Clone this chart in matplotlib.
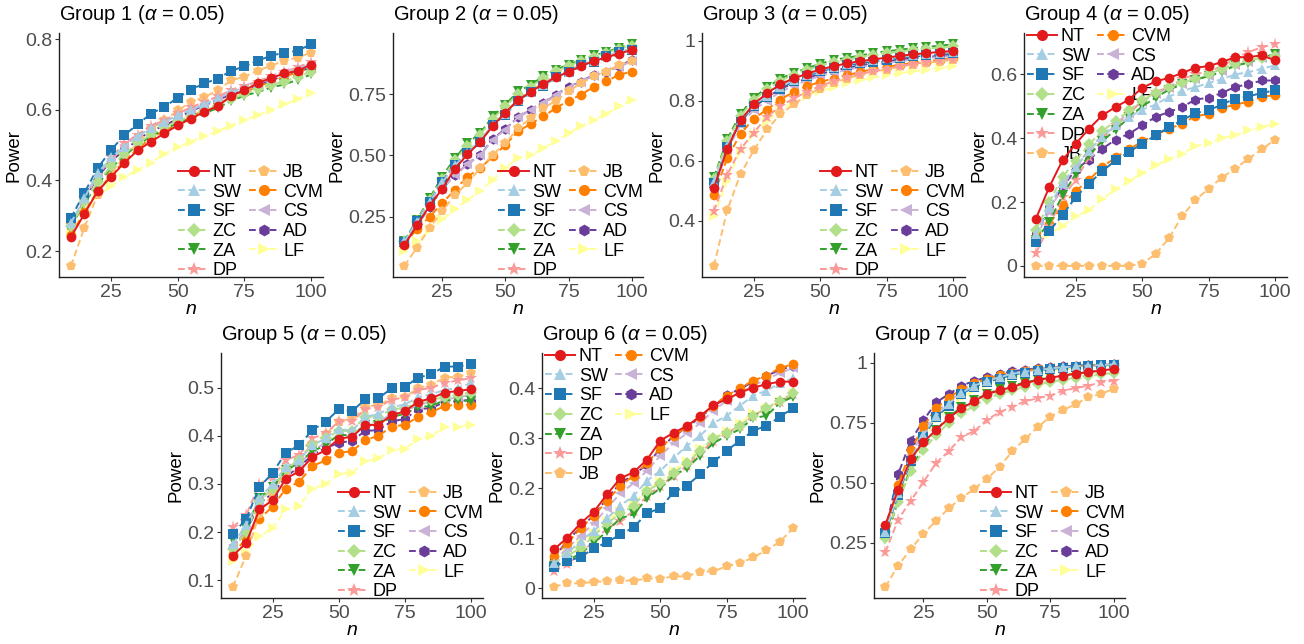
import matplotlib.pyplot as plt
from matplotlib.lines import Line2D

plt.rcParams["font.family"] = ["Liberation Sans", "DejaVu Sans"]
plt.rcParams["mathtext.fontset"] = "custom"
plt.rcParams["mathtext.rm"] = "Liberation Sans"
plt.rcParams["mathtext.it"] = "Liberation Sans:italic"

n = list(range(10, 105, 5))
methods = ["NT", "SW", "SF", "ZC", "ZA", "DP", "JB", "CVM", "CS", "AD", "LF"]
colors = ["#E31A1C", "#A6CEE3", "#1F78B4", "#B2DF8A", "#33A02C", "#FB9A99",
          "#FDBF6F", "#FF7F00", "#CAB2D6", "#6A3D9A", "#FFFF99"]
markers = ["o", "^", "s", "D", "v", "*", "p", "o", "<", "h", ">"]

g1 = {
    "NT": [0.24, 0.305, 0.37, 0.41, 0.45, 0.485, 0.51, 0.533, 0.556, 0.575, 0.594, 0.61, 0.639, 0.655, 0.675, 0.69, 0.703, 0.71, 0.728],
    "SW": [0.28, 0.35, 0.42, 0.465, 0.495, 0.525, 0.548, 0.565, 0.585, 0.6, 0.615, 0.632, 0.65, 0.663, 0.675, 0.69, 0.705, 0.715, 0.73],
    "SF": [0.294, 0.365, 0.435, 0.486, 0.528, 0.559, 0.589, 0.608, 0.634, 0.657, 0.675, 0.688, 0.71, 0.723, 0.739, 0.753, 0.762, 0.767, 0.786],
    "ZC": [0.27, 0.34, 0.395, 0.44, 0.475, 0.505, 0.53, 0.55, 0.568, 0.582, 0.597, 0.612, 0.63, 0.645, 0.658, 0.67, 0.68, 0.693, 0.708],
    "ZA": [0.27, 0.335, 0.39, 0.435, 0.47, 0.5, 0.525, 0.545, 0.562, 0.576, 0.59, 0.605, 0.625, 0.64, 0.65, 0.663, 0.672, 0.685, 0.70],
    "DP": [0.275, 0.35, 0.42, 0.465, 0.505, 0.53, 0.555, 0.57, 0.59, 0.607, 0.622, 0.638, 0.655, 0.668, 0.68, 0.695, 0.708, 0.72, 0.735],
    "JB": [0.158, 0.266, 0.36, 0.42, 0.467, 0.505, 0.547, 0.57, 0.598, 0.622, 0.636, 0.655, 0.683, 0.694, 0.711, 0.725, 0.739, 0.748, 0.762],
    "CVM": [0.245, 0.31, 0.37, 0.415, 0.455, 0.49, 0.52, 0.54, 0.56, 0.58, 0.6, 0.615, 0.635, 0.65, 0.665, 0.68, 0.695, 0.705, 0.72],
    "CS": [0.275, 0.345, 0.415, 0.46, 0.5, 0.525, 0.55, 0.565, 0.585, 0.6, 0.616, 0.632, 0.65, 0.662, 0.675, 0.69, 0.703, 0.715, 0.728],
    "AD": [0.27, 0.345, 0.41, 0.455, 0.485, 0.515, 0.54, 0.555, 0.575, 0.597, 0.612, 0.628, 0.643, 0.655, 0.668, 0.683, 0.697, 0.707, 0.72],
    "LF": [0.25, 0.31, 0.355, 0.385, 0.41, 0.43, 0.45, 0.475, 0.495, 0.51, 0.525, 0.54, 0.555, 0.57, 0.585, 0.6, 0.615, 0.63, 0.648],
}
g2 = {
    "NT": [0.135, 0.215, 0.295, 0.365, 0.445, 0.505, 0.555, 0.62, 0.675, 0.725, 0.76, 0.79, 0.82, 0.84, 0.865, 0.885, 0.9, 0.915, 0.93],
    "SW": [0.15, 0.23, 0.31, 0.39, 0.46, 0.51, 0.56, 0.625, 0.67, 0.725, 0.76, 0.788, 0.82, 0.842, 0.868, 0.885, 0.905, 0.922, 0.932],
    "SF": [0.149, 0.231, 0.312, 0.394, 0.462, 0.51, 0.557, 0.625, 0.666, 0.723, 0.758, 0.785, 0.818, 0.84, 0.867, 0.883, 0.904, 0.921, 0.93],
    "ZC": [0.15, 0.235, 0.32, 0.405, 0.48, 0.54, 0.585, 0.65, 0.7, 0.752, 0.78, 0.815, 0.843, 0.865, 0.885, 0.903, 0.918, 0.935, 0.948],
    "ZA": [0.152, 0.238, 0.326, 0.414, 0.489, 0.55, 0.591, 0.659, 0.707, 0.761, 0.788, 0.822, 0.85, 0.87, 0.89, 0.908, 0.921, 0.94, 0.954],
    "DP": [0.14, 0.22, 0.3, 0.375, 0.45, 0.51, 0.56, 0.625, 0.675, 0.73, 0.765, 0.795, 0.825, 0.845, 0.87, 0.888, 0.905, 0.92, 0.935],
    "JB": [0.05, 0.125, 0.205, 0.272, 0.34, 0.387, 0.448, 0.503, 0.55, 0.611, 0.652, 0.693, 0.723, 0.761, 0.795, 0.822, 0.842, 0.87, 0.887],
    "CVM": [0.14, 0.2, 0.25, 0.306, 0.36, 0.414, 0.448, 0.496, 0.543, 0.598, 0.629, 0.659, 0.693, 0.724, 0.747, 0.781, 0.802, 0.829, 0.842],
    "CS": [0.14, 0.215, 0.29, 0.365, 0.42, 0.465, 0.5, 0.565, 0.605, 0.655, 0.685, 0.712, 0.745, 0.775, 0.8, 0.825, 0.84, 0.86, 0.885],
    "AD": [0.14, 0.215, 0.29, 0.365, 0.42, 0.465, 0.5, 0.568, 0.608, 0.656, 0.686, 0.713, 0.747, 0.78, 0.8, 0.83, 0.842, 0.863, 0.89],
    "LF": [0.11, 0.15, 0.195, 0.24, 0.28, 0.32, 0.355, 0.4, 0.45, 0.49, 0.5, 0.53, 0.56, 0.59, 0.62, 0.645, 0.67, 0.70, 0.727],
}
g3 = {
    "NT": [0.51, 0.64, 0.735, 0.79, 0.825, 0.855, 0.875, 0.89, 0.905, 0.915, 0.925, 0.932, 0.938, 0.944, 0.95, 0.955, 0.959, 0.963, 0.966],
    "SW": [0.53, 0.65, 0.735, 0.787, 0.817, 0.846, 0.87, 0.886, 0.902, 0.913, 0.922, 0.93, 0.935, 0.941, 0.946, 0.951, 0.955, 0.959, 0.962],
    "SF": [0.525, 0.646, 0.73, 0.782, 0.812, 0.841, 0.865, 0.882, 0.898, 0.909, 0.918, 0.926, 0.931, 0.937, 0.943, 0.948, 0.951, 0.956, 0.959],
    "ZC": [0.54, 0.665, 0.75, 0.803, 0.838, 0.867, 0.887, 0.903, 0.917, 0.93, 0.937, 0.945, 0.953, 0.959, 0.964, 0.97, 0.974, 0.977, 0.982],
    "ZA": [0.545, 0.672, 0.757, 0.81, 0.845, 0.874, 0.893, 0.909, 0.923, 0.937, 0.943, 0.951, 0.959, 0.965, 0.97, 0.976, 0.98, 0.983, 0.989],
    "DP": [0.432, 0.554, 0.639, 0.694, 0.747, 0.782, 0.808, 0.83, 0.849, 0.865, 0.878, 0.89, 0.898, 0.906, 0.915, 0.923, 0.929, 0.935, 0.94],
    "JB": [0.25, 0.436, 0.556, 0.635, 0.705, 0.755, 0.788, 0.819, 0.841, 0.86, 0.874, 0.887, 0.898, 0.904, 0.915, 0.92, 0.926, 0.931, 0.937],
    "CVM": [0.487, 0.609, 0.69, 0.741, 0.771, 0.804, 0.83, 0.849, 0.863, 0.874, 0.885, 0.896, 0.906, 0.913, 0.92, 0.926, 0.931, 0.937, 0.943],
    "CS": [0.505, 0.635, 0.72, 0.77, 0.8, 0.83, 0.85, 0.868, 0.883, 0.893, 0.903, 0.912, 0.92, 0.926, 0.932, 0.938, 0.942, 0.946, 0.95],
    "AD": [0.515, 0.645, 0.73, 0.78, 0.81, 0.84, 0.858, 0.875, 0.89, 0.9, 0.91, 0.918, 0.925, 0.93, 0.937, 0.942, 0.946, 0.95, 0.955],
    "LF": [0.415, 0.534, 0.633, 0.69, 0.733, 0.771, 0.793, 0.815, 0.832, 0.845, 0.86, 0.868, 0.878, 0.885, 0.893, 0.898, 0.904, 0.909, 0.915],
}
g4 = {
    "NT": [0.148, 0.247, 0.331, 0.383, 0.43, 0.472, 0.498, 0.521, 0.558, 0.578, 0.589, 0.604, 0.621, 0.626, 0.639, 0.654, 0.654, 0.66, 0.644],
    "SW": [0.1, 0.185, 0.26, 0.31, 0.36, 0.405, 0.44, 0.465, 0.49, 0.505, 0.53, 0.548, 0.56, 0.573, 0.585, 0.6, 0.607, 0.618, 0.628],
    "SF": [0.075, 0.109, 0.159, 0.216, 0.258, 0.297, 0.331, 0.357, 0.383, 0.409, 0.435, 0.456, 0.479, 0.487, 0.506, 0.524, 0.531, 0.542, 0.55],
    "ZC": [0.112, 0.2, 0.279, 0.329, 0.381, 0.423, 0.454, 0.487, 0.519, 0.542, 0.561, 0.574, 0.587, 0.6, 0.618, 0.634, 0.644, 0.652, 0.657],
    "ZA": [0.08, 0.138, 0.221, 0.289, 0.347, 0.391, 0.427, 0.465, 0.5, 0.527, 0.552, 0.569, 0.584, 0.594, 0.608, 0.628, 0.636, 0.654, 0.663],
    "DP": [0.04, 0.125, 0.215, 0.27, 0.34, 0.4, 0.44, 0.475, 0.52, 0.545, 0.56, 0.585, 0.6, 0.61, 0.625, 0.65, 0.67, 0.685, 0.695],
    "JB": [0, 0, 0, 0, 0, 0, 0, 0, 0.007, 0.037, 0.086, 0.156, 0.206, 0.242, 0.277, 0.305, 0.336, 0.365, 0.396],
    "CVM": [0.09, 0.13, 0.19, 0.235, 0.27, 0.31, 0.34, 0.365, 0.39, 0.41, 0.43, 0.445, 0.47, 0.475, 0.495, 0.505, 0.515, 0.53, 0.535],
    "CS": [0.09, 0.17, 0.25, 0.31, 0.365, 0.41, 0.445, 0.48, 0.515, 0.54, 0.558, 0.57, 0.585, 0.595, 0.61, 0.628, 0.64, 0.65, 0.66],
    "AD": [0.101, 0.18, 0.247, 0.302, 0.333, 0.367, 0.396, 0.414, 0.44, 0.467, 0.482, 0.498, 0.521, 0.527, 0.542, 0.561, 0.569, 0.581, 0.581],
    "LF": [0.08, 0.1, 0.125, 0.155, 0.175, 0.21, 0.24, 0.265, 0.29, 0.315, 0.335, 0.35, 0.375, 0.385, 0.4, 0.41, 0.425, 0.435, 0.445],
}
g5 = {
    "NT": [0.151, 0.177, 0.247, 0.266, 0.311, 0.326, 0.356, 0.37, 0.394, 0.398, 0.422, 0.423, 0.443, 0.451, 0.471, 0.478, 0.49, 0.493, 0.497],
    "SW": [0.175, 0.215, 0.27, 0.3, 0.335, 0.35, 0.38, 0.395, 0.415, 0.41, 0.44, 0.445, 0.46, 0.465, 0.48, 0.487, 0.495, 0.5, 0.51],
    "SF": [0.196, 0.227, 0.293, 0.323, 0.365, 0.38, 0.412, 0.429, 0.455, 0.451, 0.476, 0.478, 0.499, 0.502, 0.521, 0.528, 0.544, 0.544, 0.549],
    "ZC": [0.165, 0.2, 0.265, 0.29, 0.33, 0.35, 0.38, 0.395, 0.41, 0.41, 0.44, 0.44, 0.455, 0.458, 0.47, 0.475, 0.48, 0.485, 0.49],
    "ZA": [0.184, 0.208, 0.271, 0.293, 0.328, 0.344, 0.368, 0.38, 0.403, 0.4, 0.423, 0.423, 0.439, 0.446, 0.46, 0.462, 0.474, 0.474, 0.472],
    "DP": [0.21, 0.235, 0.3, 0.315, 0.35, 0.36, 0.395, 0.405, 0.43, 0.43, 0.455, 0.46, 0.475, 0.48, 0.495, 0.5, 0.51, 0.515, 0.52],
    "JB": [0.086, 0.151, 0.238, 0.28, 0.326, 0.353, 0.382, 0.403, 0.429, 0.436, 0.46, 0.464, 0.478, 0.481, 0.499, 0.506, 0.521, 0.523, 0.53],
    "CVM": [0.155, 0.186, 0.227, 0.253, 0.29, 0.304, 0.337, 0.349, 0.365, 0.368, 0.391, 0.4, 0.419, 0.423, 0.439, 0.449, 0.462, 0.465, 0.465],
    "CS": [0.17, 0.205, 0.265, 0.29, 0.325, 0.34, 0.37, 0.385, 0.4, 0.4, 0.425, 0.43, 0.445, 0.45, 0.465, 0.47, 0.475, 0.48, 0.485],
    "AD": [0.168, 0.2, 0.26, 0.28, 0.315, 0.335, 0.36, 0.375, 0.385, 0.39, 0.41, 0.412, 0.43, 0.435, 0.455, 0.458, 0.47, 0.472, 0.475],
    "LF": [0.14, 0.158, 0.191, 0.208, 0.247, 0.255, 0.29, 0.3, 0.321, 0.323, 0.347, 0.353, 0.37, 0.373, 0.394, 0.4, 0.419, 0.419, 0.423],
}
g6 = {
    "NT": [0.078, 0.101, 0.13, 0.153, 0.188, 0.22, 0.232, 0.257, 0.295, 0.311, 0.324, 0.344, 0.366, 0.378, 0.391, 0.401, 0.408, 0.413, 0.413],
    "SW": [0.05, 0.07, 0.095, 0.115, 0.14, 0.165, 0.185, 0.215, 0.235, 0.26, 0.285, 0.305, 0.33, 0.345, 0.365, 0.385, 0.395, 0.41, 0.42],
    "SF": [0.043, 0.055, 0.062, 0.08, 0.092, 0.108, 0.122, 0.15, 0.16, 0.192, 0.205, 0.228, 0.252, 0.275, 0.295, 0.315, 0.325, 0.343, 0.36],
    "ZC": [0.045, 0.065, 0.08, 0.105, 0.13, 0.15, 0.165, 0.195, 0.21, 0.23, 0.25, 0.275, 0.3, 0.31, 0.325, 0.345, 0.36, 0.375, 0.39],
    "ZA": [0.045, 0.055, 0.07, 0.09, 0.115, 0.14, 0.148, 0.18, 0.2, 0.225, 0.24, 0.265, 0.29, 0.305, 0.318, 0.34, 0.345, 0.37, 0.383],
    "DP": [0.035, 0.048, 0.07, 0.095, 0.12, 0.135, 0.155, 0.185, 0.205, 0.225, 0.245, 0.27, 0.295, 0.31, 0.325, 0.345, 0.36, 0.372, 0.388],
    "JB": [0.003, 0.01, 0.01, 0.013, 0.014, 0.016, 0.015, 0.02, 0.019, 0.024, 0.024, 0.033, 0.034, 0.044, 0.05, 0.062, 0.076, 0.093, 0.12],
    "CVM": [0.065, 0.09, 0.12, 0.145, 0.175, 0.205, 0.225, 0.25, 0.28, 0.305, 0.322, 0.343, 0.365, 0.385, 0.4, 0.415, 0.425, 0.44, 0.448],
    "CS": [0.055, 0.08, 0.105, 0.13, 0.16, 0.19, 0.21, 0.235, 0.265, 0.29, 0.31, 0.33, 0.355, 0.375, 0.39, 0.405, 0.418, 0.43, 0.44],
    "AD": [0.06, 0.096, 0.121, 0.146, 0.18, 0.21, 0.227, 0.247, 0.279, 0.304, 0.321, 0.342, 0.362, 0.387, 0.398, 0.413, 0.425, 0.436, 0.445],
    "LF": [0.05, 0.07, 0.09, 0.11, 0.135, 0.155, 0.17, 0.195, 0.215, 0.235, 0.255, 0.28, 0.3, 0.315, 0.33, 0.35, 0.36, 0.375, 0.39],
}
g7 = {
    "NT": [0.325, 0.47, 0.6, 0.67, 0.72, 0.77, 0.81, 0.84, 0.87, 0.885, 0.9, 0.915, 0.928, 0.938, 0.947, 0.955, 0.962, 0.968, 0.975],
    "SW": [0.295, 0.455, 0.6, 0.7, 0.78, 0.83, 0.875, 0.905, 0.925, 0.94, 0.955, 0.963, 0.97, 0.977, 0.982, 0.986, 0.989, 0.991, 0.994],
    "SF": [0.29, 0.45, 0.59, 0.69, 0.775, 0.82, 0.87, 0.9, 0.92, 0.935, 0.95, 0.96, 0.968, 0.975, 0.98, 0.985, 0.988, 0.99, 0.993],
    "ZC": [0.27, 0.42, 0.55, 0.635, 0.7, 0.75, 0.79, 0.82, 0.85, 0.87, 0.885, 0.9, 0.91, 0.92, 0.93, 0.937, 0.945, 0.952, 0.958],
    "ZA": [0.265, 0.42, 0.56, 0.65, 0.72, 0.775, 0.815, 0.845, 0.87, 0.89, 0.905, 0.918, 0.93, 0.94, 0.948, 0.955, 0.962, 0.968, 0.972],
    "DP": [0.21, 0.345, 0.425, 0.502, 0.583, 0.631, 0.691, 0.715, 0.762, 0.794, 0.818, 0.839, 0.853, 0.864, 0.884, 0.895, 0.905, 0.919, 0.926],
    "JB": [0.065, 0.154, 0.222, 0.287, 0.341, 0.393, 0.436, 0.474, 0.516, 0.565, 0.631, 0.682, 0.731, 0.776, 0.804, 0.827, 0.858, 0.87, 0.892],
    "CVM": [0.3, 0.49, 0.635, 0.735, 0.81, 0.855, 0.89, 0.915, 0.935, 0.95, 0.96, 0.968, 0.975, 0.98, 0.985, 0.988, 0.99, 0.992, 0.994],
    "CS": [0.29, 0.46, 0.615, 0.715, 0.795, 0.84, 0.88, 0.91, 0.93, 0.945, 0.957, 0.965, 0.972, 0.978, 0.983, 0.987, 0.99, 0.992, 0.994],
    "AD": [0.3, 0.535, 0.675, 0.76, 0.835, 0.87, 0.905, 0.925, 0.94, 0.955, 0.965, 0.972, 0.978, 0.982, 0.986, 0.989, 0.991, 0.993, 0.995],
    "LF": [0.28, 0.44, 0.58, 0.68, 0.76, 0.81, 0.855, 0.885, 0.91, 0.925, 0.94, 0.95, 0.96, 0.967, 0.973, 0.978, 0.982, 0.985, 0.988],
}

groups = [g1, g2, g3, g4, g5, g6, g7]
titles = ["Group %d ($\\alpha$ = 0.05)" % (i + 1) for i in range(7)]
yticks = [[0.2, 0.4, 0.6, 0.8], [0.25, 0.5, 0.75], [0.4, 0.6, 0.8, 1.0], [0, 0.2, 0.4, 0.6],
          [0.1, 0.2, 0.3, 0.4, 0.5], [0, 0.1, 0.2, 0.3, 0.4], [0.25, 0.5, 0.75, 1.0]]
ytick_labels = [["0.2", "0.4", "0.6", "0.8"], ["0.25", "0.50", "0.75"], ["0.4", "0.6", "0.8", "1"],
                ["0", "0.2", "0.4", "0.6"], ["0.1", "0.2", "0.3", "0.4", "0.5"],
                ["0", "0.1", "0.2", "0.3", "0.4"], ["0.25", "0.50", "0.75", "1"]]
top_legend = [False, False, False, True, False, True, False]

# panel boxes in pixels: left, top, right, bottom
boxes = [(59, 33, 323, 277), (393, 33, 643, 277), (702, 33, 965, 277), (1024, 33, 1287, 277),
         (221, 353, 483, 598), (542, 353, 805, 598), (874, 353, 1125, 598)]

W, H = 1304, 644
fig = plt.figure(figsize=(W / 100, H / 100), dpi=100)
grey = "#4D4D4D"


def style(m):
    return "-" if m == "NT" else (0, (3.5, 1.8))


def msize(mk):
    return {"*": 9.5, "D": 6, "p": 7.5, "h": 7.5}.get(mk, 7)


for k, data in enumerate(groups):
    l, t, r, b = boxes[k]
    ax = fig.add_axes([l / W, 1 - b / H, (r - l) / W, (b - t) / H])
    for i in reversed(range(len(methods))):
        m = methods[i]
        ax.plot(n, data[m], color=colors[i], marker=markers[i], ls=style(m), lw=1.4,
                ms=msize(markers[i]), mew=0, zorder=3 + len(methods) - i)
    allv = [v for m in methods for v in data[m]]
    lo, hi = min(allv), max(allv)
    pad = (hi - lo) * 0.05
    ax.set_ylim(lo - pad, hi + pad)
    ax.set_xlim(5.5, 104.5)
    ax.set_xticks([25, 50, 75, 100])
    ax.set_yticks(yticks[k])
    ax.set_yticklabels(ytick_labels[k])
    for s in ["top", "right"]:
        ax.spines[s].set_visible(False)
    for s in ["left", "bottom"]:
        ax.spines[s].set_color("#222222")
        ax.spines[s].set_linewidth(1.0)
    ax.tick_params(labelsize=14, colors="#333333", labelcolor=grey, length=3, width=0.8, pad=2)
    ax.set_xlabel("$n$", fontsize=14, labelpad=0)
    ax.set_ylabel("Power", fontsize=13.5, labelpad=2)
    ax.set_title(titles[k], loc="left", fontsize=14.5, pad=9)

    handles = [Line2D([], [], color=colors[i], marker=markers[i], ls=style(m), lw=1.4,
                      ms=msize(markers[i]) + 1, mew=0) for i, m in enumerate(methods)]
    labels = list(methods)
    blank = Line2D([], [], alpha=0)
    if top_legend[k]:
        handles = handles + [blank] * 3
        labels = labels + [""] * 3
        loc, anchor = "upper left", (0.01, 1.0 + 5 / (b - t))
    else:
        handles = handles + [blank]
        labels = labels + [""]
        loc, anchor = "lower right", (1.0, -0.01)
    ax.legend(handles, labels, loc=loc, bbox_to_anchor=anchor, ncol=2, frameon=False,
              fontsize=13, handlelength=1.7, handletextpad=0.2, columnspacing=0.4,
              labelspacing=0.15, borderpad=0.0, borderaxespad=0.0)

fig.savefig("out.png", dpi=100)
